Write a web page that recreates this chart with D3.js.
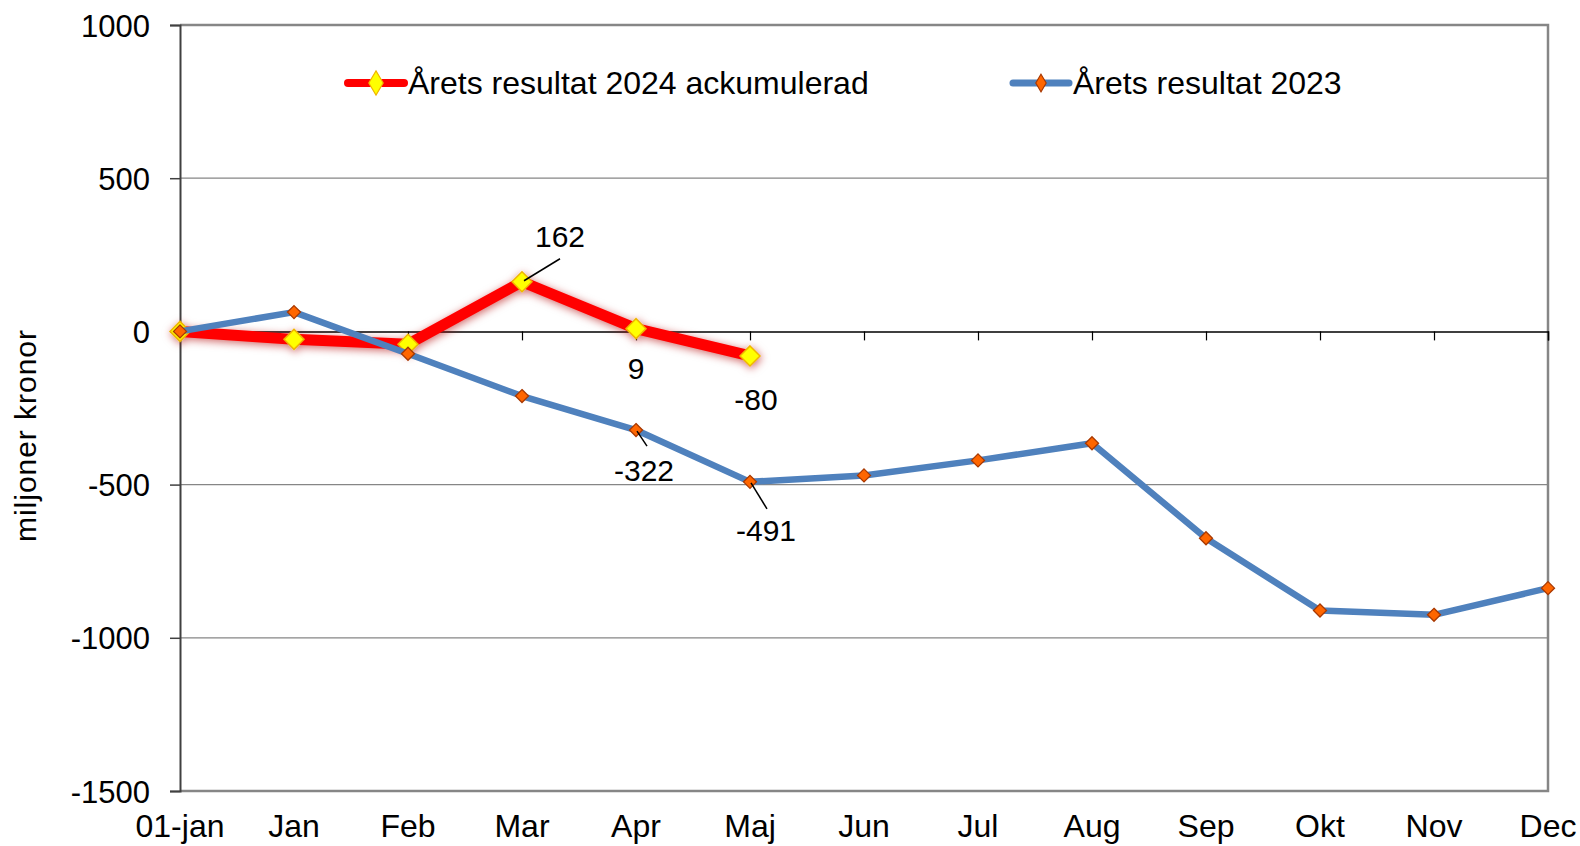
<!DOCTYPE html>
<html>
<head>
  <title>Årets resultat</title>
  <script src="https://d3js.org/d3.v7.min.js"></script>
  <style>
    body { margin: 0; background: #fff; }
    svg text { font-family: "Liberation Sans", Arial, sans-serif; fill: #000; }
  </style>
</head>
<body>
  <div id="chart"></div>
  <script>
    // månader på x-axeln
    var months = ['01-jan', 'Jan', 'Feb', 'Mar', 'Apr', 'Maj', 'Jun', 'Jul', 'Aug', 'Sep', 'Okt', 'Nov', 'Dec'];
    // miljoner kronor, ackumulerat
    var result2024 = [0, -26, -42, 162, 9, -80];
    var result2023 = [0, 63, -73, -211, -322, -491, -470, -421, -365, -675, -911, -925, -838];
    var yTicks = [1000, 500, 0, -500, -1000, -1500];
    var gridTicks = [500, -500, -1000];
    // etiketter som visas i diagrammet
    var labels2024 = [{i: 3, text: '162'}, {i: 4, text: '9'}, {i: 5, text: '-80'}];
    var labels2023 = [{i: 4, text: '-322'}, {i: 5, text: '-491'}];

    var width = 1580, height = 846;
    var plotLeft = 180, plotRight = 1548, plotTop = 25, plotBottom = 791;

    var svg = d3.select('#chart').append('svg')
      .attr('width', width)
      .attr('height', height);

    var defs = svg.append('defs');
    var glow = defs.append('filter').attr('id', 'glow')
      .attr('x', '-10%').attr('y', '-30%').attr('width', '120%').attr('height', '160%');
    glow.append('feGaussianBlur').attr('in', 'SourceAlpha').attr('stdDeviation', 4).attr('result', 'blur');
    glow.append('feFlood').attr('flood-color', '#b00000').attr('flood-opacity', 0.6);
    glow.append('feComposite').attr('in2', 'blur').attr('operator', 'in').attr('result', 'halo');
    glow.append('feOffset').attr('in', 'halo').attr('dx', 1).attr('dy', 2).attr('result', 'halo2');
    var merge = glow.append('feMerge');
    merge.append('feMergeNode').attr('in', 'halo2');
    merge.append('feMergeNode').attr('in', 'SourceGraphic');

    var x = d3.scalePoint().domain(months).range([plotLeft, plotRight]);
    var y = d3.scaleLinear().domain([-1500, 1000]).range([plotBottom, plotTop]);

    // rutnät
    svg.append('g').selectAll('line').data(gridTicks).enter().append('line')
      .attr('x1', plotLeft).attr('x2', plotRight)
      .attr('y1', function(d) { return y(d); })
      .attr('y2', function(d) { return y(d); })
      .attr('stroke', '#868686').attr('stroke-width', 1.3);

    // ram runt plotytan
    svg.append('path')
      .attr('d', 'M' + plotLeft + ',' + y(1000) + 'H' + plotRight + 'V' + y(-1500) + 'H' + plotLeft)
      .attr('fill', 'none').attr('stroke', '#868686').attr('stroke-width', 2.5);

    // y-axel
    var yAxis = svg.append('g')
      .attr('transform', 'translate(' + plotLeft + ',0)')
      .call(d3.axisLeft(y).tickValues(yTicks).tickSize(10).tickPadding(20).tickFormat(function(d) { return String(d); }));
    yAxis.select('.domain').attr('stroke', '#404040').attr('stroke-width', 2);
    yAxis.selectAll('.tick line').attr('stroke', '#404040').attr('stroke-width', 1.5);
    yAxis.selectAll('text').style('font-size', '31px').attr('dy', '0.36em')
      .style('font-family', '"Liberation Sans", Arial, sans-serif').attr('fill', '#000');

    // x-axel vid noll
    var xAxis = svg.append('g')
      .attr('transform', 'translate(0,' + y(0) + ')')
      .call(d3.axisBottom(x).tickSize(9).tickFormat(''));
    xAxis.select('.domain').attr('stroke', '#000').attr('stroke-width', 1.5);
    xAxis.selectAll('.tick line').attr('stroke', '#000').attr('stroke-width', 1.2);

    // månadsetiketter längst ner
    svg.append('g').selectAll('text').data(months).enter().append('text')
      .attr('x', function(d) { return x(d); })
      .attr('y', 837)
      .attr('text-anchor', 'middle')
      .style('font-size', '32px')
      .text(function(d) { return d; });

    // y-axelns titel
    svg.append('text')
      .attr('transform', 'translate(36,436) rotate(-90)')
      .attr('text-anchor', 'middle')
      .style('font-size', '30px')
      .attr('textLength', 212)
      .text('miljoner kronor');

    var line = d3.line()
      .x(function(d, i) { return x(months[i]); })
      .y(function(d) { return y(d); });

    function diamond(size) {
      return 'M0,' + (-size) + 'L' + size + ',0L0,' + size + 'L' + (-size) + ',0Z';
    }

    // 2024
    var g24 = svg.append('g').attr('filter', 'url(#glow)');
    g24.append('path').datum(result2024)
      .attr('d', line).attr('fill', 'none')
      .attr('stroke', '#ff0000').attr('stroke-width', 11)
      .attr('stroke-linejoin', 'round').attr('stroke-linecap', 'round');
    g24.selectAll('path.m').data(result2024).enter().append('path')
      .attr('class', 'm')
      .attr('transform', function(d, i) { return 'translate(' + x(months[i]) + ',' + y(d) + ')'; })
      .attr('d', diamond(10))
      .attr('fill', '#ffff00').attr('stroke', '#f0b400').attr('stroke-width', 1.5);

    // 2023
    var g23 = svg.append('g');
    g23.append('path').datum(result2023)
      .attr('d', line).attr('fill', 'none')
      .attr('stroke', '#4f81bd').attr('stroke-width', 6.5)
      .attr('stroke-linejoin', 'round');
    g23.selectAll('path.m').data(result2023).enter().append('path')
      .attr('class', 'm')
      .attr('transform', function(d, i) { return 'translate(' + x(months[i]) + ',' + y(d) + ')'; })
      .attr('d', diamond(6.5))
      .attr('fill', '#ff6600').attr('stroke', '#a83800').attr('stroke-width', 1.3);

    var l162 = labels2024[0], l9 = labels2024[1], l80 = labels2024[2];
    var l322 = labels2023[0], l491 = labels2023[1];

    // ledarlinjer
    svg.append('line')
      .attr('x1', x(months[l162.i]) + 2).attr('y1', y(result2024[l162.i]) - 1)
      .attr('x2', x(months[l162.i]) + 38).attr('y2', y(result2024[l162.i]) - 23)
      .attr('stroke', '#000').attr('stroke-width', 1.5);
    svg.append('line')
      .attr('x1', x(months[l322.i]) + 1).attr('y1', y(result2023[l322.i]) + 1)
      .attr('x2', x(months[l322.i]) + 11).attr('y2', y(result2023[l322.i]) + 16)
      .attr('stroke', '#000').attr('stroke-width', 1.5);
    svg.append('line')
      .attr('x1', x(months[l491.i]) + 1).attr('y1', y(result2023[l491.i]) + 1)
      .attr('x2', x(months[l491.i]) + 17).attr('y2', y(result2023[l491.i]) + 27)
      .attr('stroke', '#000').attr('stroke-width', 1.5);

    var labelPos = [
      {text: l162.text, dx: 38, dy: -35, base: y(result2024[l162.i]), i: l162.i},
      {text: l9.text, dx: 0, dy: 50, base: y(result2024[l9.i]), i: l9.i},
      {text: l80.text, dx: 6, dy: 54, base: y(result2024[l80.i]), i: l80.i},
      {text: l322.text, dx: 8, dy: 51, base: y(result2023[l322.i]), i: l322.i},
      {text: l491.text, dx: 16, dy: 59, base: y(result2023[l491.i]), i: l491.i}
    ];
    svg.append('g').selectAll('text').data(labelPos).enter().append('text')
      .attr('x', function(d) { return x(months[d.i]) + d.dx; })
      .attr('y', function(d) { return d.base + d.dy; })
      .attr('text-anchor', 'middle')
      .style('font-size', '30px')
      .text(function(d) { return d.text; });

    // legend
    var legend = svg.append('g');
    var leg = [
      {name: 'Årets resultat 2024 ackumulerad', x: 348, color: '#ff0000', w: 8, fill: '#ffff00', stroke: '#f0b400', r: 9},
      {name: 'Årets resultat 2023', x: 1013, color: '#4f81bd', w: 7, fill: '#ff6600', stroke: '#a83800', r: 6.5}
    ];
    leg.forEach(function(d) {
      legend.append('line')
        .attr('x1', d.x).attr('x2', d.x + 56).attr('y1', 83).attr('y2', 83)
        .attr('stroke', d.color).attr('stroke-width', d.w).attr('stroke-linecap', 'round');
      legend.append('path')
        .attr('transform', 'translate(' + (d.x + 28) + ',83) scale(0.8,1.35)')
        .attr('d', diamond(d.r))
        .attr('fill', d.fill).attr('stroke', d.stroke).attr('stroke-width', 1.2);
      legend.append('text')
        .attr('x', d.x + 60).attr('y', 94)
        .style('font-size', '32px')
        .text(d.name);
    });
  </script>
</body>
</html>
